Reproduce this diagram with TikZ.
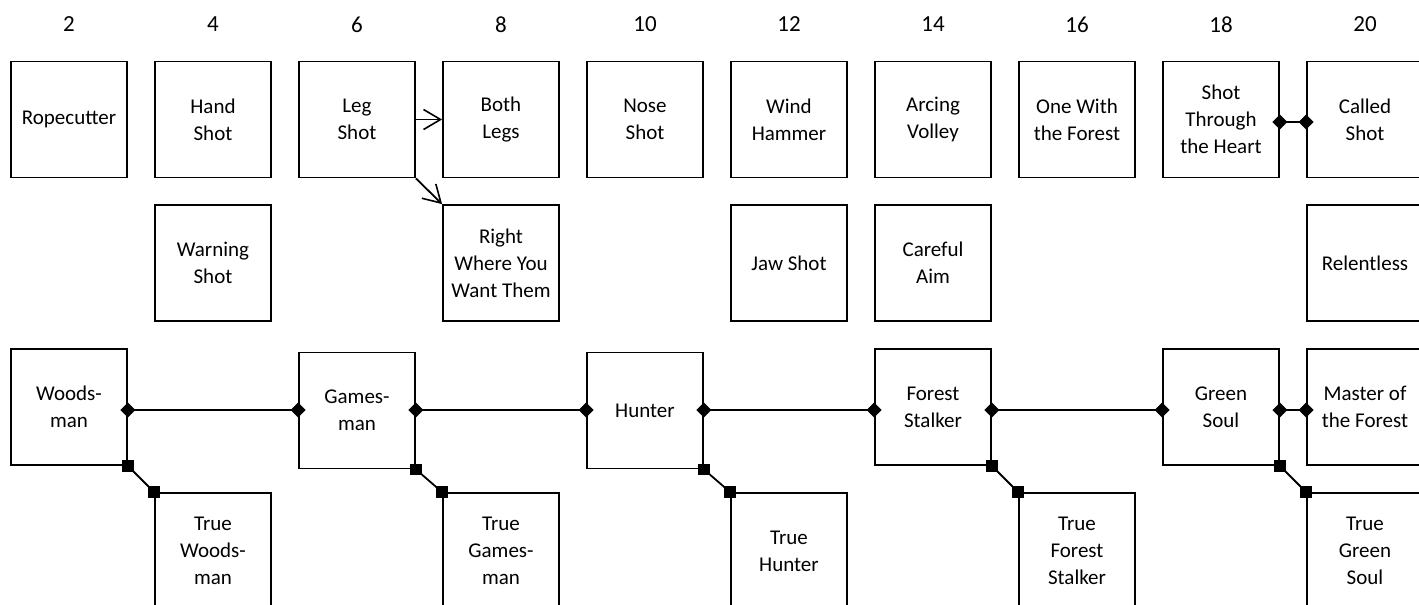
\documentclass[tikz,border=0pt]{standalone}
\usepackage{fontspec}
\setmainfont{Carlito}
\usetikzlibrary{arrows.meta,shapes.geometric,calc}
\begin{document}
\begin{tikzpicture}[x=1pt,y=-1pt,
  box/.style={draw=black, line width=1.8pt, rectangle, minimum width=116pt, minimum height=116pt, inner sep=0pt, align=center, font=\fontsize{21}{27}\selectfont},
  num/.style={font=\fontsize{23}{27}\selectfont, inner sep=0pt},
  conn/.style={draw=black, line width=1.8pt},
  arr/.style={conn, -{Straight Barb[length=17pt,width=20pt,line width=1.6pt]}},
  dmd/.style={diamond, fill=black, inner sep=0pt, minimum width=15pt, minimum height=15pt},
  sqm/.style={rectangle, fill=black, inner sep=0pt, minimum size=11.5pt}]
\useasboundingbox (0,0) rectangle (1419,605);
\clip (0,0) rectangle (1419,605);
% column numbers
\foreach \k/\n in {0/2,1/4,2/6,3/8,4/10,5/12,6/14,7/16,8/18,9/20}
  \node[num] (n\n) at (69+144*\k, 24.5) {\n};
% top row
\node[box] (rope) at (69,119.5) {Ropecutter};
\node[box] (hand) at (213,119.5) {Hand\\Shot};
\node[box] (leg) at (357,119.5) {Leg\\Shot};
\node[box] (both) at (501,119.5) {Both\\Legs};
\node[box] (nose) at (645,119.5) {Nose\\Shot};
\node[box] (wind) at (789,119.5) {Wind\\Hammer};
\node[box] (arc) at (933,119.5) {Arcing\\Volley};
\node[box] (one) at (1077,119.5) {One With\\the Forest};
\node[box] (sth) at (1221,119.5) {Shot\\Through\\the Heart};
\node[box] (called) at (1365,119.5) {Called\\Shot};
% second row
\node[box] (warn) at (213,263) {Warning\\Shot};
\node[box] (right) at (501,263) {Right\\Where You\\Want Them};
\node[box] (jaw) at (789,263) {Jaw Shot};
\node[box] (care) at (933,263) {Careful\\Aim};
\node[box] (relent) at (1365,263) {Relentless};
% third row
\node[box] (woods) at (69,407) {Woods-\\man};
\node[box] (games) at (357,410.5) {Games-\\man};
\node[box] (hunter) at (645,410.5) {Hunter};
\node[box] (fstalk) at (933,407) {Forest\\Stalker};
\node[box] (gsoul) at (1221,407) {Green\\Soul};
\node[box] (master) at (1365,407) {Master of\\the Forest};
% bottom row
\node[box] (twoods) at (213,551) {True\\Woods-\\man};
\node[box] (tgames) at (501,551) {True\\Games-\\man};
\node[box] (thunter) at (789,551) {True\\Hunter};
\node[box] (tfstalk) at (1077,551) {True\\Forest\\Stalker};
\node[box] (tgsoul) at (1365,551) {True\\Green\\Soul};
% levels
\coordinate (lvl) at (0,410);
\coordinate (lvltop) at (0,122);
% arrows
\draw[arr] (leg.east) -- (both.west);
\draw[arr] (leg.south east) -- (right.north west);
% diamond links
\draw[conn] (sth.east |- lvltop) -- (called.west |- lvltop);
\node[dmd] (d1a) at (sth.east |- lvltop) {};
\node[dmd] (d1b) at (called.west |- lvltop) {};
\foreach \a/\b in {woods/games,games/hunter,hunter/fstalk,fstalk/gsoul,gsoul/master}{
  \draw[conn] (\a.east |- lvl) -- (\b.west |- lvl);
  \node[dmd] (da\a) at (\a.east |- lvl) {};
  \node[dmd] (db\b) at (\b.west |- lvl) {};
}
% square links
\foreach \a/\b in {woods/twoods,games/tgames,hunter/thunter,fstalk/tfstalk,gsoul/tgsoul}{
  \draw[conn] (\a.south east) -- (\b.north west);
  \node[sqm] (sa\a) at (\a.south east) {};
  \node[sqm] (sb\b) at (\b.north west) {};
}
\end{tikzpicture}
\end{document}
